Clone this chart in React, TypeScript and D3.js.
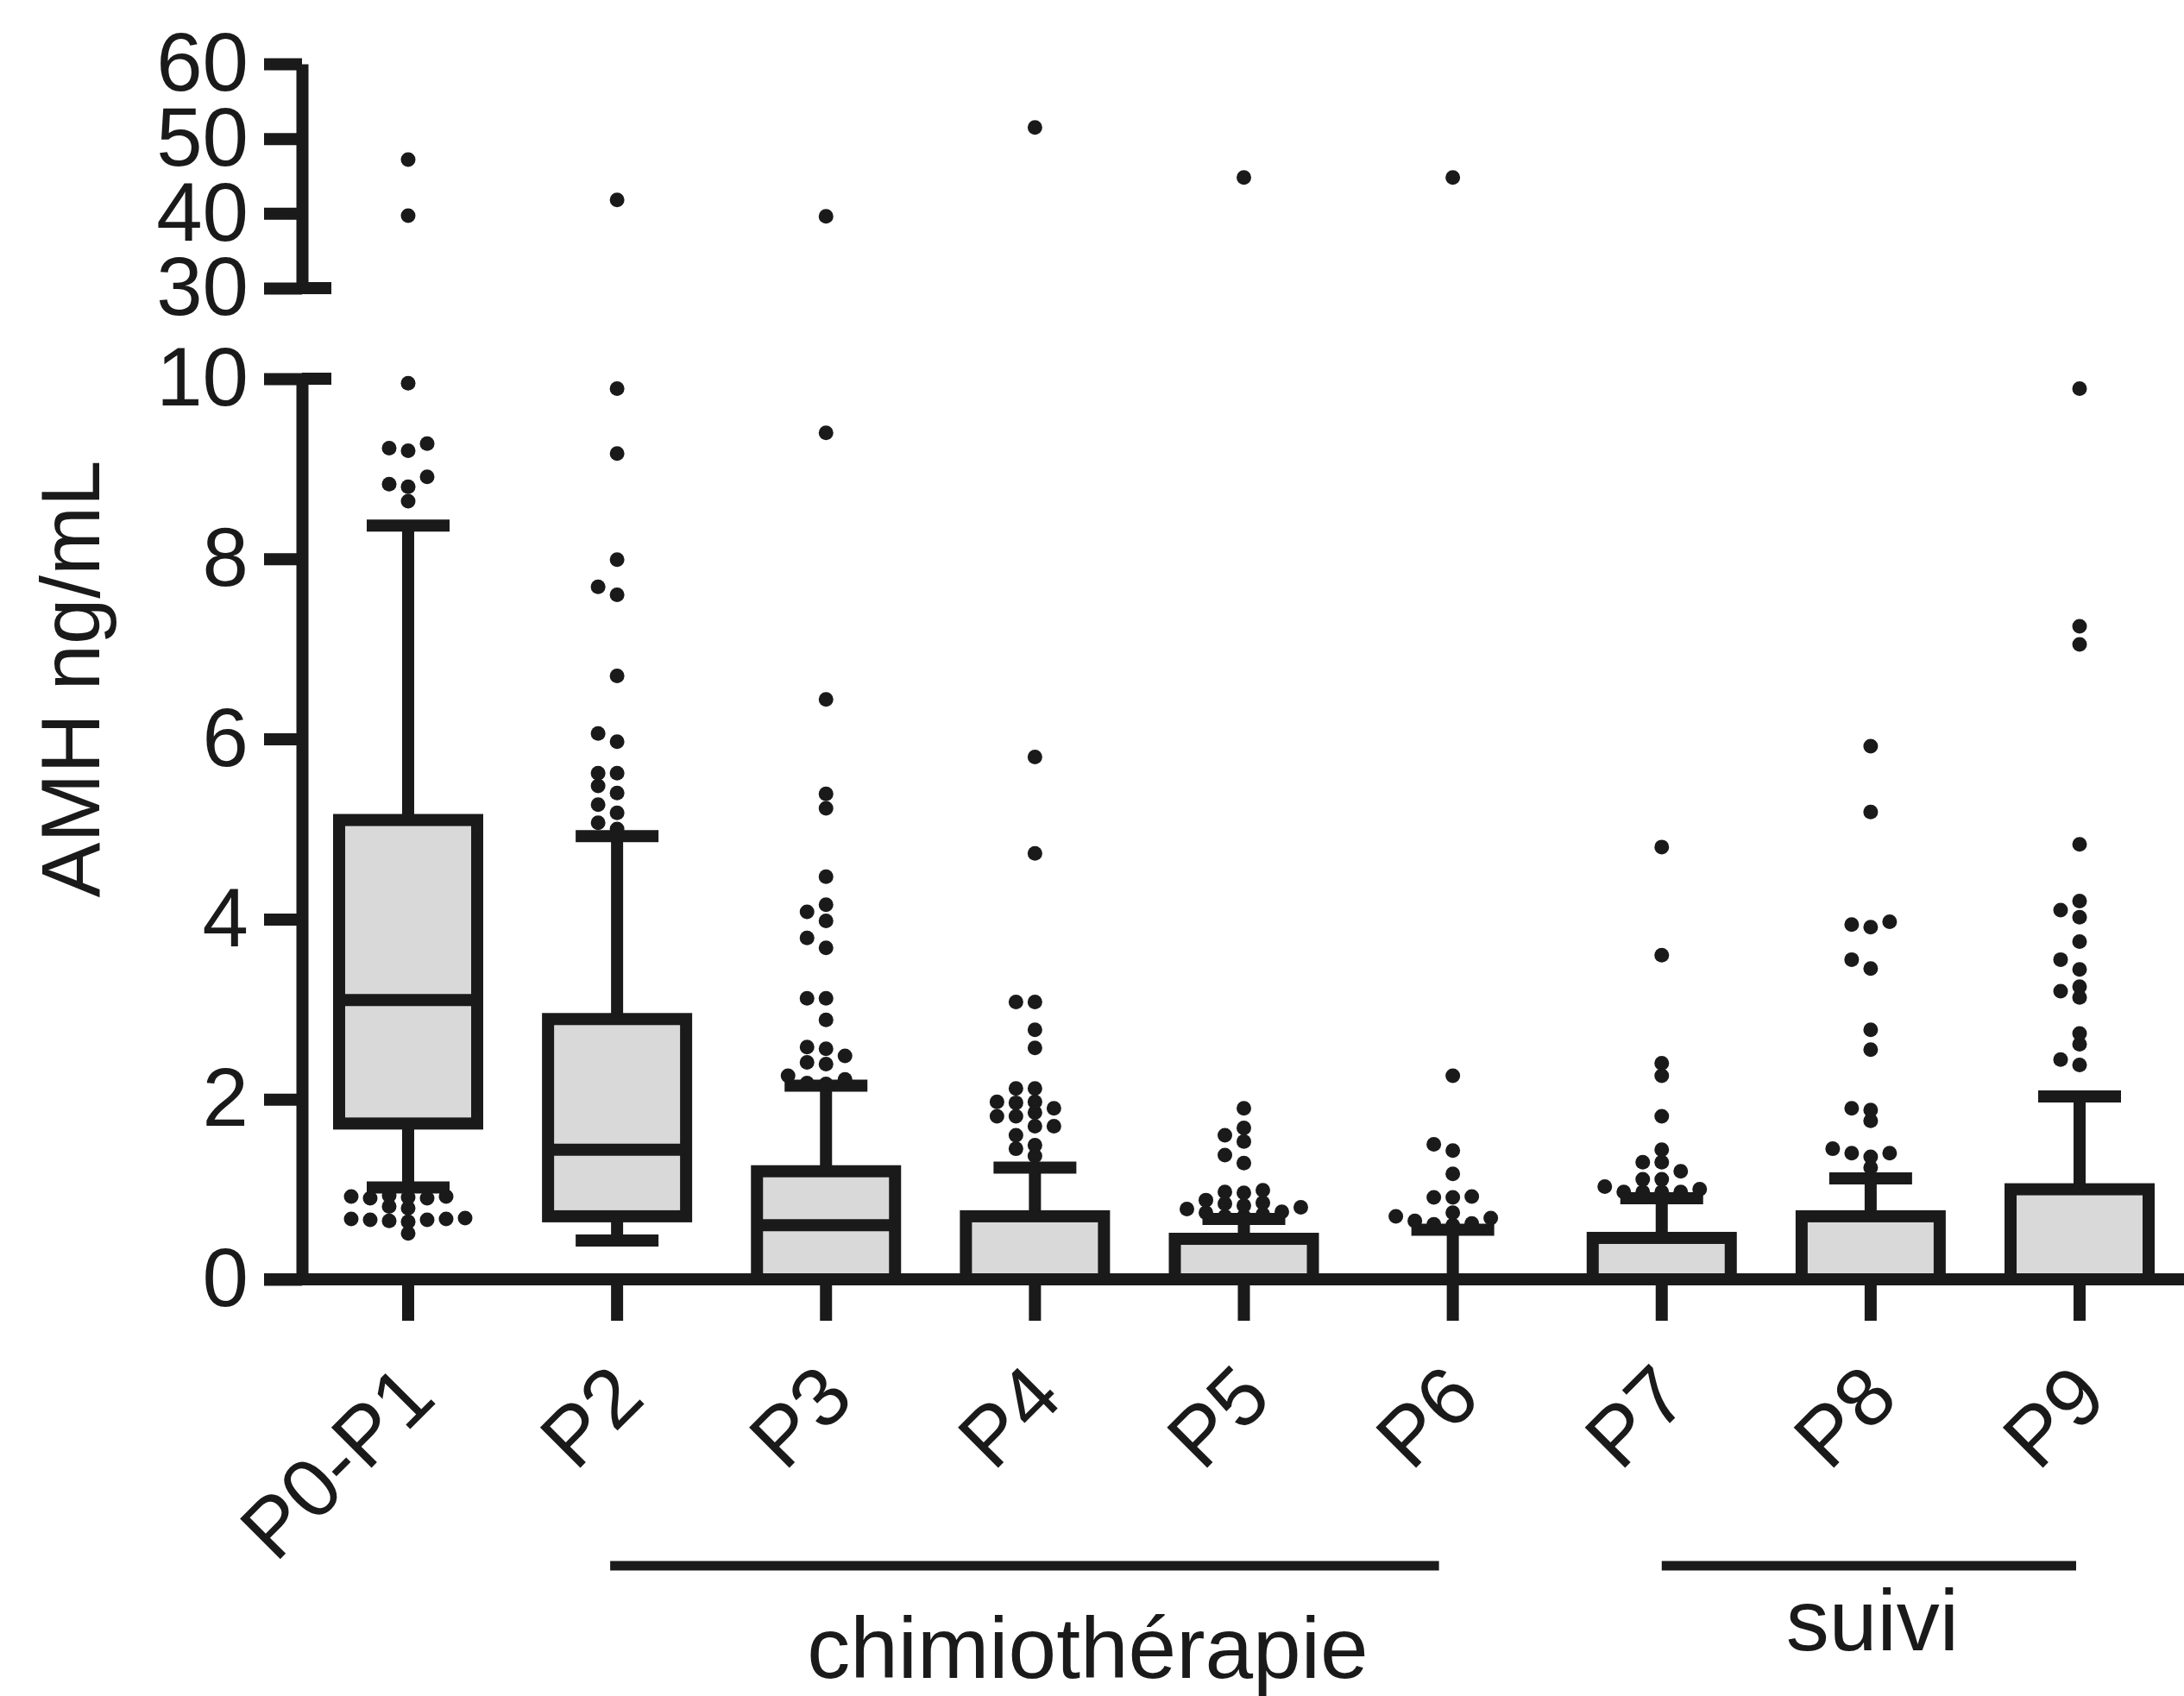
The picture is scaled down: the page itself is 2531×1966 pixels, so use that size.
import React, { useEffect, useRef } from "react";
import * as d3 from "d3";

// categories (time points)
const categories = ["P0-P1", "P2", "P3", "P4", "P5", "P6", "P7", "P8", "P9"];

// box plot summary values, AMH ng/mL
const q1 = [1.73, 0.7, 0, 0, 0, 0, 0, 0, 0];
const medians = [3.1, 1.44, 0.6, 0, 0, 0, 0, 0, 0];
const q3 = [5.1, 2.89, 1.2, 0.7, 0.45, 0, 0.46, 0.7, 1.0];
const whiskerLow = [1.02, 0.43, 0, 0, 0, 0, 0, 0, 0];
const whiskerHigh = [8.37, 4.92, 2.15, 1.24, 0.67, 0.55, 0.9, 1.12, 2.03];

// outliers per category
const outP0P1 = [0.51, 0.64, 0.65, 0.66, 0.66, 0.67, 0.67, 0.68, 0.79, 0.81, 0.9, 0.9, 0.91, 0.92, 0.92, 0.93, 8.64, 8.8, 8.83, 8.91, 9.2, 9.23, 9.28, 9.95, 39.7, 47.2];
const outP2 = [5.0, 5.07, 5.18, 5.27, 5.4, 5.48, 5.62, 5.62, 5.97, 6.06, 6.7, 7.6, 7.69, 7.99, 9.17, 9.89, 41.8];
const outP3 = [2.17, 2.18, 2.22, 2.26, 2.39, 2.41, 2.48, 2.56, 2.58, 2.88, 3.12, 3.12, 3.68, 3.79, 3.98, 4.08, 4.16, 4.47, 5.23, 5.39, 6.44, 9.4, 39.6];
const outP4 = [1.37, 1.45, 1.49, 1.6, 1.7, 1.7, 1.81, 1.81, 1.85, 1.9, 1.96, 1.97, 1.97, 2.12, 2.12, 2.57, 2.77, 3.08, 3.08, 4.73, 5.8, 51.5];
const outP5 = [0.7, 0.7, 0.72, 0.74, 0.75, 0.78, 0.8, 0.82, 0.84, 0.85, 0.88, 0.96, 0.97, 0.99, 1.29, 1.38, 1.53, 1.6, 1.68, 1.9, 44.8];
const outP6 = [0.6, 0.61, 0.62, 0.65, 0.68, 0.7, 0.74, 0.91, 0.91, 0.92, 1.17, 1.43, 1.5, 2.26, 44.8];
const outP7 = [0.97, 0.97, 0.97, 0.97, 1.0, 1.03, 1.11, 1.11, 1.2, 1.3, 1.3, 1.44, 1.81, 2.26, 2.4, 3.6, 4.8];
const outP8 = [1.24, 1.36, 1.4, 1.4, 1.45, 1.76, 1.88, 1.9, 2.55, 2.77, 3.45, 3.55, 3.91, 3.94, 3.97, 5.19, 5.92];
const outP9 = [2.38, 2.44, 2.61, 2.73, 3.13, 3.2, 3.25, 3.44, 3.55, 3.75, 4.02, 4.1, 4.2, 4.83, 7.05, 7.25, 9.89];
const outliers = [outP0P1, outP2, outP3, outP4, outP5, outP6, outP7, outP8, outP9];

// broken y axis ticks
const lowTicks = [0, 2, 4, 6, 8, 10];
const highTicks = [30, 40, 50, 60];

// group brackets under the x axis
const groupLabels = ["chimiothérapie", "suivi"];
const groupFrom = ["P2", "P7"];
const groupTo = ["P6", "P9"];

const W = 2531;
const H = 1966;
const INK = "#1a1a1a";
const FONT = "'Liberation Sans', Arial, Helvetica, sans-serif";

const App = () => {
  const svgRef = useRef(null);

  useEffect(() => {
    const svg = d3.select(svgRef.current);
    svg.selectAll("*").remove();

    const axisX = 350;
    const xAxisY = 1483;

    // two scales for the broken axis
    const yLow = d3.scaleLinear().domain([0, 10]).range([xAxisY, 439]);
    const yHigh = d3.scaleLinear().domain([30, 60]).range([334, 74]);
    const yPos = (v) => (v >= 30 ? yHigh(v) : yLow(v));

    const x = d3.scalePoint().domain(categories).range([473, 2410]);

    const boxHalf = 80;
    const capHalf = 48;
    const sw = 14;

    const styleAxis = (g) => {
      g.attr("font-family", FONT).attr("font-size", 96);
      g.select(".domain").attr("stroke", INK).attr("stroke-width", sw);
      g.selectAll(".tick line").attr("stroke", INK).attr("stroke-width", sw);
      g.selectAll(".tick text").attr("fill", INK);
    };

    // y axis, lower part
    svg.append("g")
      .attr("transform", `translate(${axisX},0)`)
      .call(d3.axisLeft(yLow).tickValues(lowTicks).tickSize(44).tickPadding(18).tickSizeOuter(0).tickFormat(d3.format("d")))
      .call(styleAxis);

    // y axis, upper part
    svg.append("g")
      .attr("transform", `translate(${axisX},0)`)
      .call(d3.axisLeft(yHigh).tickValues(highTicks).tickSize(44).tickPadding(18).tickSizeOuter(0).tickFormat(d3.format("d")))
      .call(styleAxis);

    // break caps pointing right
    [yLow(10), yHigh(30)].forEach(yy => {
      svg.append("line")
        .attr("x1", axisX).attr("x2", axisX + 34)
        .attr("y1", yy).attr("y2", yy)
        .attr("stroke", INK).attr("stroke-width", sw);
    });

    // x axis line + ticks
    svg.append("line")
      .attr("x1", axisX - 44).attr("x2", W)
      .attr("y1", xAxisY).attr("y2", xAxisY)
      .attr("stroke", INK).attr("stroke-width", sw);

    svg.append("g").selectAll("line").data(categories).join("line")
      .attr("x1", d => x(d)).attr("x2", d => x(d))
      .attr("y1", xAxisY).attr("y2", xAxisY + 48)
      .attr("stroke", INK).attr("stroke-width", sw);

    // rotated category labels
    svg.append("g").selectAll("text").data(categories).join("text")
      .attr("transform", d => `translate(${x(d) + 35},1624) rotate(-45)`)
      .attr("text-anchor", "end")
      .attr("font-family", FONT)
      .attr("font-size", 96)
      .attr("fill", INK)
      .text(d => d);

    // y axis title
    svg.append("text")
      .attr("transform", "translate(115,787) rotate(-90)")
      .attr("text-anchor", "middle")
      .attr("font-family", FONT)
      .attr("font-size", 96)
      .attr("fill", INK)
      .text("AMH ng/mL");

    // boxes and whiskers
    const boxes = svg.append("g");
    categories.forEach((c, i) => {
      const cx = x(c);
      boxes.append("line")
        .attr("x1", cx).attr("x2", cx)
        .attr("y1", yLow(q3[i])).attr("y2", yLow(whiskerHigh[i]))
        .attr("stroke", INK).attr("stroke-width", sw);
      boxes.append("line")
        .attr("x1", cx - capHalf).attr("x2", cx + capHalf)
        .attr("y1", yLow(whiskerHigh[i])).attr("y2", yLow(whiskerHigh[i]))
        .attr("stroke", INK).attr("stroke-width", sw);
      if (whiskerLow[i] < q1[i]) {
        boxes.append("line")
          .attr("x1", cx).attr("x2", cx)
          .attr("y1", yLow(q1[i])).attr("y2", yLow(whiskerLow[i]))
          .attr("stroke", INK).attr("stroke-width", sw);
        boxes.append("line")
          .attr("x1", cx - capHalf).attr("x2", cx + capHalf)
          .attr("y1", yLow(whiskerLow[i])).attr("y2", yLow(whiskerLow[i]))
          .attr("stroke", INK).attr("stroke-width", sw);
      }
      if (q3[i] > q1[i]) {
        boxes.append("rect")
          .attr("x", cx - boxHalf).attr("width", boxHalf * 2)
          .attr("y", yLow(q3[i])).attr("height", yLow(q1[i]) - yLow(q3[i]))
          .attr("fill", "#d9d9d9")
          .attr("stroke", INK).attr("stroke-width", sw);
      }
      boxes.append("line")
        .attr("x1", cx - boxHalf).attr("x2", cx + boxHalf)
        .attr("y1", yLow(medians[i])).attr("y2", yLow(medians[i]))
        .attr("stroke", INK).attr("stroke-width", sw);
    });

    // outlier dots, spread sideways when they collide (simple beeswarm)
    const r = 8.5;
    const step = 22;
    const minGap = 12;
    const dots = svg.append("g");
    categories.forEach((c, i) => {
      const placed = [];
      const vals = [...outliers[i]].sort((a, b) => a - b);
      vals.forEach(v => {
        const yy = yPos(v);
        let slot = 0;
        for (let k = 0; k < 20; k++) {
          const s = k === 0 ? 0 : (k % 2 === 1 ? -Math.ceil(k / 2) : Math.ceil(k / 2));
          const clash = placed.some(p => p.slot === s && Math.abs(p.y - yy) < minGap);
          if (!clash) { slot = s; break; }
        }
        placed.push({ slot, y: yy });
      });
      dots.selectAll(null).data(placed).join("circle")
        .attr("cx", d => x(c) + d.slot * step)
        .attr("cy", d => d.y)
        .attr("r", r)
        .attr("fill", INK);
    });

    // group brackets
    const lineDx1 = [-8, 0];
    const lineDx2 = [-16, -4];
    const textDx = [73, 4];
    const textY = [1945, 1913];
    groupLabels.forEach((g, i) => {
      const x1 = x(groupFrom[i]) + lineDx1[i];
      const x2 = x(groupTo[i]) + lineDx2[i];
      svg.append("line")
        .attr("x1", x1).attr("x2", x2)
        .attr("y1", 1815).attr("y2", 1815)
        .attr("stroke", INK).attr("stroke-width", 11);
      svg.append("text")
        .attr("x", (x1 + x2) / 2 + textDx[i])
        .attr("y", textY[i])
        .attr("text-anchor", "middle")
        .attr("font-family", FONT)
        .attr("font-size", 100)
        .attr("fill", INK)
        .text(g);
    });
  }, []);

  return (
    <svg
      ref={svgRef}
      width={W}
      height={H}
      style={{ position: "absolute", left: 0, top: 0, background: "#fff" }}
    />
  );
};

export default App;
